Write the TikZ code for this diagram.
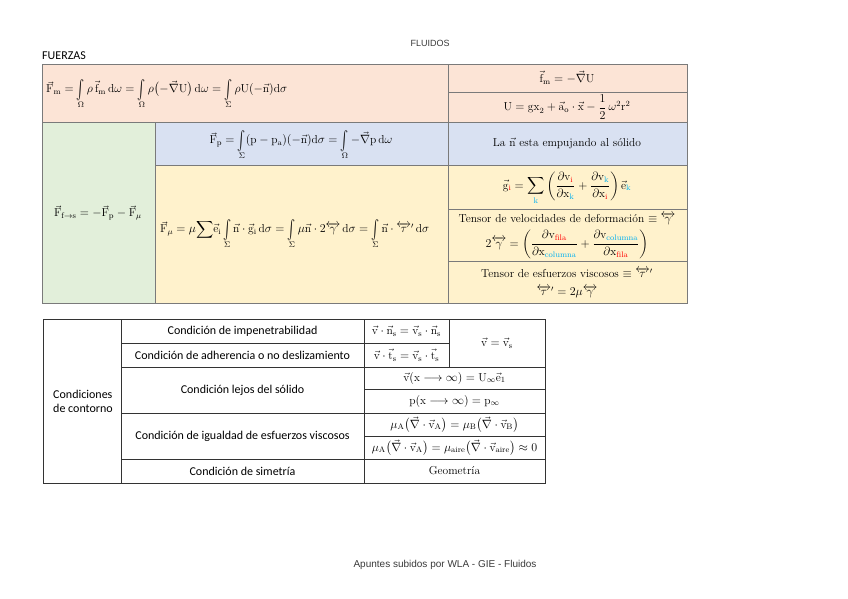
\documentclass[tikz,border=0pt]{standalone}
\usepackage{amsmath}
\usepackage{graphicx}
\usepackage{fontspec}
\newfontfamily\calib{Carlito}
\newfontfamily\arialf{Liberation Sans}
\definecolor{pinkc}{HTML}{FCE4D6}
\definecolor{bluec}{HTML}{D9E1F2}
\definecolor{greenc}{HTML}{E2EFDA}
\definecolor{yellowc}{HTML}{FFF2CC}
\definecolor{gridc}{HTML}{7A7A7A}
\definecolor{redk}{HTML}{FF0000}
\definecolor{cyank}{HTML}{00B0F0}
\definecolor{footc}{HTML}{3A3A3A}
\newcommand{\vrm}[1]{\vec{\mathrm{#1}}}
\newcommand{\dlr}[1]{\overleftrightarrow{#1}}
\newcommand{\rk}[1]{{\color{redk}\mathrm{#1}}}
\newcommand{\ck}[1]{{\color{cyank}\mathrm{#1}}}
\newcommand{\sint}[1]{\mathop{\vcenter{\hbox{\scalebox{1}[1.6]{$\int$}}}}\limits_{#1}}
\begin{document}
\begin{tikzpicture}[x=1pt,y=-1pt,
  topcell/.style={draw=gridc, line width=0.7pt},
  botcell/.style={draw=black!80, line width=0.7pt},
  mtxt/.style={font=\fontsize{11.5}{13.5}\selectfont, inner sep=0pt},
  ctxt/.style={font=\calib\fontsize{12}{14}\selectfont, inner sep=0pt},
  stxt/.style={font=\fontsize{11.5}{14}\selectfont, inner sep=0pt, align=center}]
\useasboundingbox (0,0) rectangle (848,599);
\fill[white] (0,0) rectangle (848,599);
% headers
\node[font=\arialf\fontsize{9}{10}\selectfont, text=footc, inner sep=0pt] (title) at (430,43) {FLUIDOS};
\node[font=\calib\fontsize{12}{13}\selectfont, inner sep=0pt, anchor=west] (fuerzas) at (42,56) {FUERZAS};
\node[font=\arialf\fontsize{10}{11}\selectfont, text=footc, inner sep=0pt] (footer) at (445,565) {Apuntes subidos por WLA - GIE - Fluidos};
% top table cells
\filldraw[topcell, fill=pinkc] (42,64) rectangle (448,122);
\filldraw[topcell, fill=pinkc] (448,64) rectangle (687,92);
\filldraw[topcell, fill=pinkc] (448,92) rectangle (687,122);
\filldraw[topcell, fill=greenc] (42,122) rectangle (155,303);
\filldraw[topcell, fill=bluec] (155,122) rectangle (448,165);
\filldraw[topcell, fill=bluec] (448,122) rectangle (687,165);
\filldraw[topcell, fill=yellowc] (155,165) rectangle (448,303);
\filldraw[topcell, fill=yellowc] (448,165) rectangle (687,209);
\filldraw[topcell, fill=yellowc] (448,209) rectangle (687,261);
\filldraw[topcell, fill=yellowc] (448,261) rectangle (687,303);
% top table texts
\node[mtxt, anchor=west] (fm) at (46,94) {$\vrm{F}_{\mathrm m} = \sint{\Omega} \rho\,\vrm{f}_{\mathrm m}\,\mathrm d\omega = \sint{\Omega}\rho\bigl(-\vec\nabla\mathrm U\bigr)\,\mathrm d\omega = \sint{\Sigma}\rho\mathrm U(-\vrm{n})\mathrm d\sigma$};
\node[mtxt] (fmdef) at (567,78) {$\vrm{f}_{\mathrm m} = -\vec\nabla\mathrm U$};
\node[mtxt] (udef) at (567,107) {$\mathrm U = \mathrm{gx}_2 + \vrm{a}_{\mathrm o}\cdot\vrm{x} - \dfrac{1}{2}\,\omega^2\mathrm r^2$};
\node[mtxt] (ffs) at (98,213) {$\vrm{F}_{\mathrm{f\to s}} = -\vrm{F}_{\mathrm p} - \vrm{F}_{\mu}$};
\node[mtxt] (fp) at (301,145) {$\vrm{F}_{\mathrm p} = \sint{\Sigma}(\mathrm p-\mathrm p_{\mathrm a})(-\vrm{n})\mathrm d\sigma = \sint{\Omega}-\vec\nabla\mathrm p\,\mathrm d\omega$};
\node[stxt] (nsol) at (567,143) {La $\vrm{n}$ esta empujando al sólido};
\node[mtxt, anchor=west] (fmu) at (160,234) {$\vrm{F}_{\mu} = \mu{\displaystyle\sum}\vrm{e}_{\mathrm i}\sint{\Sigma}\vrm{n}\cdot\vrm{g}_{\mathrm i}\,\mathrm d\sigma = \sint{\Sigma}\mu\vrm{n}\cdot 2\dlr{\gamma}\,\mathrm d\sigma = \sint{\Sigma}\vrm{n}\cdot\dlr{\tau}'\,\mathrm d\sigma$};
\node[mtxt] (gi) at (567,188) {$\displaystyle\vrm{g}_{\rk{i}} = \sum_{\ck{k}}\left(\frac{\partial\mathrm v_{\rk{i}}}{\partial\mathrm x_{\ck{k}}}+\frac{\partial\mathrm v_{\ck{k}}}{\partial\mathrm x_{\rk{i}}}\right)\vrm{e}_{\ck{k}}$};
\node[stxt] (tvel) at (567,219) {Tensor de velocidades de deformación $\equiv\dlr{\gamma}$};
\node[mtxt] (tvelf) at (567,244) {$2\dlr{\gamma} = \left(\dfrac{\partial\mathrm v_{\rk{fila}}}{\partial\mathrm x_{\ck{columna}}}+\dfrac{\partial\mathrm v_{\ck{columna}}}{\partial\mathrm x_{\rk{fila}}}\right)$};
\node[stxt] (tesf) at (567,273) {Tensor de esfuerzos viscosos $\equiv\dlr{\tau}'$};
\node[mtxt] (tesff) at (567,292) {$\dlr{\tau}' = 2\mu\dlr{\gamma}$};
% bottom table grid
\draw[botcell] (43,319) rectangle (545,483);
\draw[botcell] (121,319) -- (121,483);
\draw[botcell] (364,319) -- (364,483);
\draw[botcell] (449,319) -- (449,367);
\draw[botcell] (121,343) -- (449,343);
\draw[botcell] (121,367) -- (545,367);
\draw[botcell] (364,389) -- (545,389);
\draw[botcell] (121,413) -- (545,413);
\draw[botcell] (364,436) -- (545,436);
\draw[botcell] (121,459) -- (545,459);
% bottom table texts
\node[ctxt, align=left] (cc) at (83,401) {Condiciones\\de contorno};
\node[ctxt] (c1) at (242.5,331) {Condición de impenetrabilidad};
\node[ctxt] (c2) at (242.5,355) {Condición de adherencia o no deslizamiento};
\node[ctxt] (c3) at (242.5,390) {Condición lejos del sólido};
\node[ctxt] (c4) at (242.5,436) {Condición de igualdad de esfuerzos viscosos};
\node[ctxt] (c5) at (242.5,471) {Condición de simetría};
\node[mtxt] (e1) at (406.5,331) {$\vrm{v}\cdot\vrm{n}_{\mathrm s} = \vrm{v}_{\mathrm s}\cdot\vrm{n}_{\mathrm s}$};
\node[mtxt] (e2) at (406.5,355) {$\vrm{v}\cdot\vrm{t}_{\mathrm s} = \vrm{v}_{\mathrm s}\cdot\vrm{t}_{\mathrm s}$};
\node[mtxt] (e12) at (497,343) {$\vrm{v} = \vrm{v}_{\mathrm s}$};
\node[mtxt] (e3) at (454.5,378) {$\vrm{v}(\mathrm x\longrightarrow\infty) = \mathrm U_{\infty}\vrm{e}_1$};
\node[mtxt] (e4) at (454.5,401) {$\mathrm p(\mathrm x\longrightarrow\infty) = \mathrm p_{\infty}$};
\node[mtxt] (e5) at (454.5,424.5) {$\mu_{\mathrm A}\bigl(\vec\nabla\cdot\vrm{v}_{\mathrm A}\bigr) = \mu_{\mathrm B}\bigl(\vec\nabla\cdot\vrm{v}_{\mathrm B}\bigr)$};
\node[mtxt] (e6) at (454.5,447.5) {$\mu_{\mathrm A}\bigl(\vec\nabla\cdot\vrm{v}_{\mathrm A}\bigr) = \mu_{\mathrm{aire}}\bigl(\vec\nabla\cdot\vrm{v}_{\mathrm{aire}}\bigr)\approx 0$};
\node[stxt] (e7) at (454.5,471) {Geometría};
\end{tikzpicture}
\end{document}
